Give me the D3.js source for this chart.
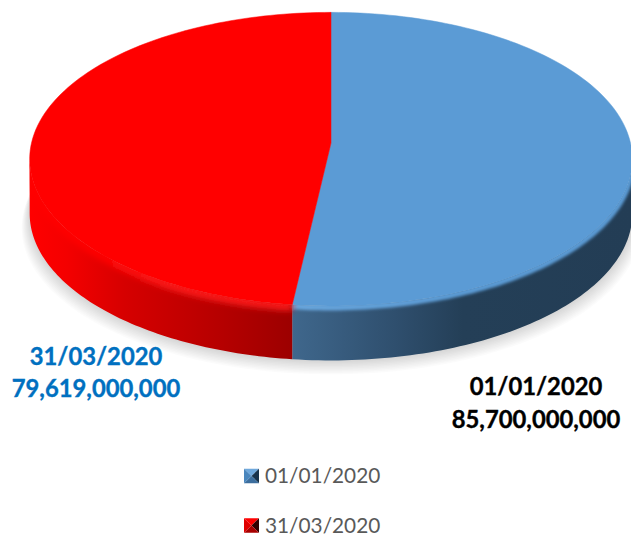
<!DOCTYPE html>
<html><head><meta charset="utf-8">
<script src="https://cdn.jsdelivr.net/npm/d3@7/dist/d3.min.js"></script>
<style>html,body{margin:0;padding:0;background:#fff}svg{display:block}text{font-family:Lato,"Open Sans",sans-serif}</style>
</head><body><svg id="c" width="631" height="534"></svg>
<script>
const categories = ["01/01/2020", "31/03/2020"];
const values = [85700000000, 79619000000];
const valueLabels = ["85,700,000,000", "79,619,000,000"];
const topColors = ["#5b9bd5", "#ff0000"];

const cx = 331, apexY = 143, radius = 299.5, tilt = 145, persp = 0.11, depth = 54.5;
const svg = d3.select("#c");
const defs = svg.append("defs");

function wallGradient(id, stops, x1, x2) {
  const g = defs.append("linearGradient").attr("id", id)
    .attr("gradientUnits", "userSpaceOnUse")
    .attr("x1", x1).attr("x2", x2).attr("y1", 0).attr("y2", 0);
  stops.forEach(s => g.append("stop").attr("offset", s[0]).attr("stop-color", s[1]));
}
wallGradient("wall0", [[0, "#3f678c"], [0.3, "#2f4f6e"], [0.5, "#243f57"], [1, "#233d55"]], 293, 632);
wallGradient("wall1", [[0, "#ff0000"], [0.14, "#f40000"], [0.36, "#d60000"], [0.7, "#b80000"], [1, "#9c0000"]], 30, 293);
wallGradient("edge0", [[0, "#68a6dd"], [0.5, "#5b9bd5"], [1, "#5b9bd5"]], 293, 632);
wallGradient("edge1", [[0, "#ff0000"], [0.25, "#ff0000"], [0.5, "#ff1a1a"], [1, "#ff1a1a"]], 30, 293);

function blurFilter(id, sd) {
  defs.append("filter").attr("id", id).attr("filterUnits", "userSpaceOnUse")
    .attr("x", -40).attr("y", -40).attr("width", 711).attr("height", 614)
    .append("feGaussianBlur").attr("in", "SourceGraphic").attr("stdDeviation", sd);
}
blurFilter("bevel0", 1.6);
blurFilter("bevel1", 3);

// Perspective projection of a clockwise pie angle onto the tilted disc
const px = a => cx + radius * Math.sin(a) / (1 + persp * Math.cos(a));
const py = a => apexY - tilt * Math.cos(a) / (1 + persp * Math.cos(a));
const slices = d3.pie().sort(null).value(d => d)(values);
const rim = d3.line().x(d => px(d)).y(d => py(d));
const wallRim = d3.line().x(d => px(d)).y(d => py(d) + depth);
const sweep = (a0, a1, n) => d3.range(0, n + 1).map(k => a0 + (a1 - a0) * k / n);

// The wall is visible between the two silhouette tangents of the projected disc
const frontStart = Math.acos(-persp), frontEnd = 2 * Math.PI - frontStart;
const frontPart = s => sweep(Math.max(s.startAngle, frontStart), Math.min(s.endAngle, frontEnd), 80);

// Ground shadow: stacked translucent outlines that fade away from the wall
const allRim = sweep(0, 2 * Math.PI, 200);
d3.range(1, 11).forEach(k => {
  svg.append("path")
    .attr("d", d3.line().x(a => cx + (px(a) - cx) * (1 + k * 0.8 / radius)).y(a => py(a) + depth + k * 1.4)(allRim) + "Z")
    .attr("fill", "#000").attr("fill-opacity", 0.017);
});

// Side walls
const clip = defs.append("clipPath").attr("id", "wallClip");
slices.forEach((s, i) => {
  const ts = frontPart(s);
  const d = rim(ts) + "L" + wallRim(ts.slice().reverse()).slice(1) + "Z";
  svg.append("path").attr("d", d).attr("fill", `url(#wall${i})`);
  clip.append("path").attr("d", d);
});

// Top face: every slice is closed through the shifted apex
const apex = `L${cx},${apexY}Z`;
svg.append("g").selectAll("path").data(slices).join("path")
  .attr("d", s => rim(sweep(s.startAngle, s.endAngle, 120)) + apex)
  .attr("fill", (d, i) => topColors[i])
  .attr("stroke", (d, i) => topColors[i]).attr("stroke-width", 0.5);

// Rounded bevel where the top face meets the wall
const bevelWidth = [6, 9];
slices.forEach((s, i) => {
  svg.append("g").attr("clip-path", "url(#wallClip)").append("path")
    .attr("d", d3.line().x(d => px(d)).y(d => py(d) + 1.5)(frontPart(s)))
    .attr("fill", "none").attr("stroke", `url(#edge${i})`).attr("stroke-width", bevelWidth[i])
    .attr("filter", `url(#bevel${i})`);
});

// Value labels
const labelX = [536, 96], labelY = [395, 365], labelGap = [33, 32], labelFill = ["#000000", "#0070c0"];
slices.forEach((s, i) => {
  const t = svg.append("text").attr("text-anchor", "middle").attr("font-weight", 700)
    .attr("font-size", 23.8).attr("fill", labelFill[i])
    .attr("stroke", labelFill[i]).attr("stroke-width", 0.35);
  t.append("tspan").attr("x", labelX[i]).attr("y", labelY[i]).text(categories[i]);
  t.append("tspan").attr("x", labelX[i]).attr("y", labelY[i] + labelGap[i]).text(valueLabels[i]);
});

// Legend with pyramid-shaded keys
const legendY = d3.scalePoint().domain(categories).range([476, 525.5]);
const keyShades = [["#6fa8dc", "#4a86bd", "#17324b", "#3c6e9e"], ["#ff0000", "#e00000", "#300000", "#a80000"]];
categories.forEach((c, i) => {
  const y = legendY(c), x0 = 244, s = 15, h = 14.5, yt = y - h / 2;
  const m = [x0 + s / 2, yt + h / 2];
  const corners = [[x0, yt], [x0 + s, yt], [x0 + s, yt + h], [x0, yt + h]];
  const order = [[0, 1, keyShades[i][0]], [1, 2, keyShades[i][2]], [2, 3, keyShades[i][3]], [3, 0, keyShades[i][1]]];
  order.forEach(o => svg.append("path")
    .attr("d", d3.line()([corners[o[0]], corners[o[1]], m]) + "Z").attr("fill", o[2]));
  svg.append("text").attr("x", 265).attr("y", y + 7).attr("font-size", 20.8).attr("fill", "#595959").text(c);
});
</script></body></html>
